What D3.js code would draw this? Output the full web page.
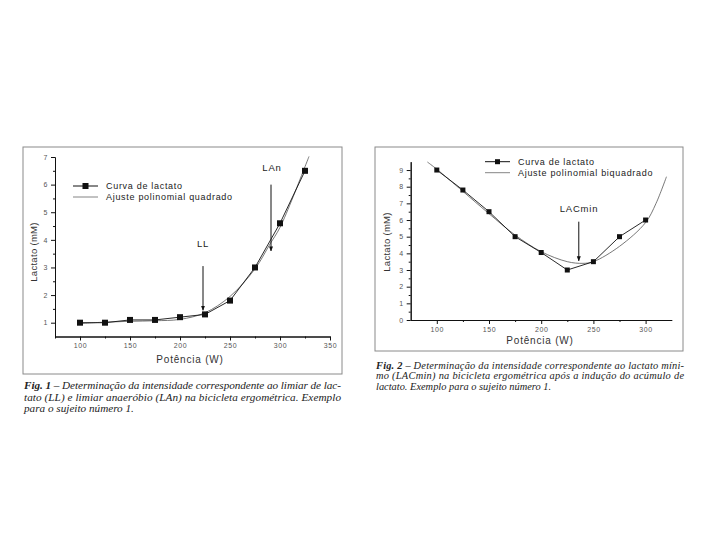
<!DOCTYPE html>
<html><head><meta charset="utf-8">
<script src="https://cdn.jsdelivr.net/npm/d3@7"></script>
<style>
html,body{margin:0;padding:0;background:#fff;}
svg{display:block;}
.tick text{font-family:"Liberation Sans",Arial,sans-serif;fill:#555;}
</style></head><body>
<svg id="c" width="720" height="540"></svg>
<script>
// ---------- Data ----------
const fig1Power = [100,125,150,175,200,225,250,275,300,325];
const fig1Lactate = [1.0,1.0,1.1,1.1,1.2,1.3,1.8,3.0,4.6,6.5];
const fig1FitPower = [100,125,150,175,200,225,250,275,290,300,325,329];
const fig1FitLactate = [0.97,1.02,1.05,1.07,1.12,1.36,1.95,2.95,3.85,4.45,6.65,7.02];
const fig1XTicks = [100,150,200,250,300,350];
const fig1YTicks = [1,2,3,4,5,6,7];

const fig2Power = [100,125,150,175,200,225,250,275,300];
const fig2Lactate = [9.0,7.8,6.5,5.0,4.05,3.0,3.5,5.0,6.0];
const fig2FitPower = [91,100,125,150,175,200,225,240,250,275,300,310,320];
const fig2FitLactate = [9.48,9.05,7.72,6.38,5.1,4.1,3.5,3.4,3.5,4.42,5.85,7.0,8.6];
const fig2XTicks = [100,150,200,250,300];
const fig2YTicks = [0,1,2,3,4,5,6,7,8,9];

const fig1Legend = ["Curva de lactato","Ajuste polinomial quadrado"];
const fig2Legend = ["Curva de lactato","Ajuste polinomial biquadrado"];
const fig1Caption = ["Determinação da intensidade correspondente ao limiar de lac-",
  "tato (LL) e limiar anaeróbio (LAn) na bicicleta ergométrica. Exemplo",
  "para o sujeito número 1."];
const fig2Caption = ["Determinação da intensidade correspondente ao lactato míni-",
  "mo (LACmin) na bicicleta ergométrica após a indução do acúmulo de",
  "lactato. Exemplo para o sujeito número 1."];

const svg = d3.select("#c");
const sans = '"Liberation Sans",Arial,sans-serif';
const serif = '"Liberation Serif","Times New Roman",serif';

svg.append("defs").append("marker")
  .attr("id","arr").attr("viewBox","0 0 10 10").attr("refX",9).attr("refY",5)
  .attr("markerWidth",5).attr("markerHeight",6).attr("orient","auto")
  .append("path").attr("d","M0,1 L10,5 L0,9 z").attr("fill","#111");

function panel(o){
  const g = svg.append("g");
  g.append("rect").attr("x",o.box[0]).attr("y",o.box[1]).attr("width",o.box[2]).attr("height",o.box[3])
    .attr("fill","none").attr("stroke","#8a8a8a").attr("stroke-width",1);
  const x = d3.scaleLinear().domain(o.xd).range(o.xr);
  const y = d3.scaleLinear().domain(o.yd).range(o.yr);
  const y0 = o.yr[0], x0 = o.xr[0];
  const fmt = d3.format("d");
  // axes
  g.append("g").attr("transform",`translate(0,${y0})`)
    .call(d3.axisBottom(x).tickValues(o.xt).tickFormat(fmt).tickSize(4).tickPadding(3).tickSizeOuter(0));
  g.append("g").attr("transform",`translate(0,${y0})`)
    .call(d3.axisBottom(x).tickValues(o.xminor).tickSize(2).tickFormat("").tickSizeOuter(0));
  g.append("g").attr("transform",`translate(${x0},0)`)
    .call(d3.axisLeft(y).tickValues(o.yt).tickFormat(fmt).tickSize(4).tickPadding(3).tickSizeOuter(0));
  g.append("g").attr("transform",`translate(${x0},0)`)
    .call(d3.axisLeft(y).tickValues(o.yminor).tickSize(2).tickFormat("").tickSizeOuter(0));
  g.selectAll(".domain").attr("stroke","#111");
  g.selectAll(".tick line").attr("stroke","#111");
  g.selectAll(".tick text").attr("font-size",7).style("letter-spacing","0.6px");
  // titles
  g.append("text").attr("x",o.xlab[0]).attr("y",o.xlab[1]).attr("text-anchor","middle")
    .attr("font-family",sans).attr("font-size",10).attr("fill","#333").style("letter-spacing","0.8px")
    .text("Potência (W)");
  g.append("text").attr("transform",`translate(${o.ylab[0]},${o.ylab[1]}) rotate(-90)`)
    .attr("text-anchor","middle").attr("font-family",sans).attr("font-size",9.5).attr("fill","#333")
    .style("letter-spacing","0.3px").text("Lactato (mM)");
  // fit line
  g.append("path").datum(o.fp.map((p,i)=>[p,o.fl[i]]))
    .attr("d",d3.line().x(d=>x(d[0])).y(d=>y(d[1])).curve(d3.curveCatmullRom))
    .attr("fill","none").attr("stroke","#555").attr("stroke-width",0.8);
  // data line
  const pts = o.dp.map((p,i)=>[p,o.dl[i]]);
  g.append("path").datum(pts).attr("d",d3.line().x(d=>x(d[0])).y(d=>y(d[1])))
    .attr("fill","none").attr("stroke","#111").attr("stroke-width",0.9);
  g.selectAll("rect.m").data(pts).join("rect").attr("class","m")
    .attr("x",d=>x(d[0])-o.ms/2).attr("y",d=>y(d[1])-o.ms/2).attr("width",o.ms).attr("height",o.ms).attr("fill","#111");
  // legend
  const L = o.leg;
  g.append("line").attr("x1",L[0]).attr("x2",L[0]+25).attr("y1",L[1]).attr("y2",L[1]).attr("stroke","#111");
  g.append("rect").attr("x",L[0]+12.5-o.ms/2).attr("y",L[1]-o.ms/2).attr("width",o.ms).attr("height",o.ms).attr("fill","#111");
  g.append("line").attr("x1",L[0]).attr("x2",L[0]+25).attr("y1",L[1]+L[2]).attr("y2",L[1]+L[2]).attr("stroke","#666").attr("stroke-width",0.8);
  o.legText.forEach((t,i)=>{
    g.append("text").attr("x",L[0]+33).attr("y",L[1]+i*L[2]+3.2).attr("font-family",sans).attr("font-size",9)
      .attr("fill","#222").style("letter-spacing","0.7px").text(t);
  });
  // annotations
  o.ann.forEach(a=>{
    g.append("text").attr("x",a.tx).attr("y",a.ty).attr("text-anchor","middle").attr("font-family",sans)
      .attr("font-size",9.5).attr("fill","#222").style("letter-spacing","0.8px").text(a.t);
    g.append("line").attr("x1",x(a.p)).attr("x2",x(a.p)).attr("y1",y(a.v1)).attr("y2",y(a.v2))
      .attr("stroke","#111").attr("stroke-width",1).attr("marker-end","url(#arr)");
  });
  // caption
  o.cap.forEach((t,i)=>{
    const tx = g.append("text").attr("x",o.capPos[0]).attr("y",o.capPos[1]+i*o.capPos[2])
      .attr("font-family",serif).attr("font-style","italic").attr("font-size",o.capFs).attr("fill","#222");
    if(i===0){
      tx.append("tspan").attr("font-weight","bold").text(o.figLabel);
      tx.append("tspan").text(" – "+t);
    } else tx.text(t);
    if(i<2) tx.attr("textLength",o.capW).attr("lengthAdjust","spacing");
  });
}

panel({
  box:[23,147,319,227], xd:[75,350], xr:[55,330], yd:[0.5,7], yr:[336.5,157],
  xt:fig1XTicks, xminor:[75,125,175,225,275,325], yt:fig1YTicks, yminor:[1.5,2.5,3.5,4.5,5.5,6.5],
  xlab:[190,363], ylab:[37,252],
  dp:fig1Power, dl:fig1Lactate, fp:fig1FitPower, fl:fig1FitLactate, ms:6,
  leg:[73,186,11], legText:fig1Legend,
  ann:[{t:"LL",tx:203,ty:247,p:223,v1:3.05,v2:1.45},{t:"LAn",tx:272,ty:171,p:291,v1:6.0,v2:3.6}],
  cap:fig1Caption, figLabel:"Fig. 1", capPos:[24,389,11.5], capFs:11.2, capW:317
});
panel({
  box:[375,147,308,204], xd:[75,325], xr:[410.7,671.7], yd:[0,9.5], yr:[320,161.7],
  xt:fig2XTicks, xminor:[125,175,225,275], yt:fig2YTicks, yminor:[0.5,1.5,2.5,3.5,4.5,5.5,6.5,7.5,8.5],
  xlab:[540,344], ylab:[390,242],
  dp:fig2Power, dl:fig2Lactate, fp:fig2FitPower, fl:fig2FitLactate, ms:5,
  leg:[485,161.7,11], legText:fig2Legend,
  ann:[{t:"LACmin",tx:579,ty:212,p:236,v1:5.9,v2:3.55}],
  cap:fig2Caption, figLabel:"Fig. 2", capPos:[376,368.5,10.5], capFs:10.4, capW:308
});
</script></body></html>
